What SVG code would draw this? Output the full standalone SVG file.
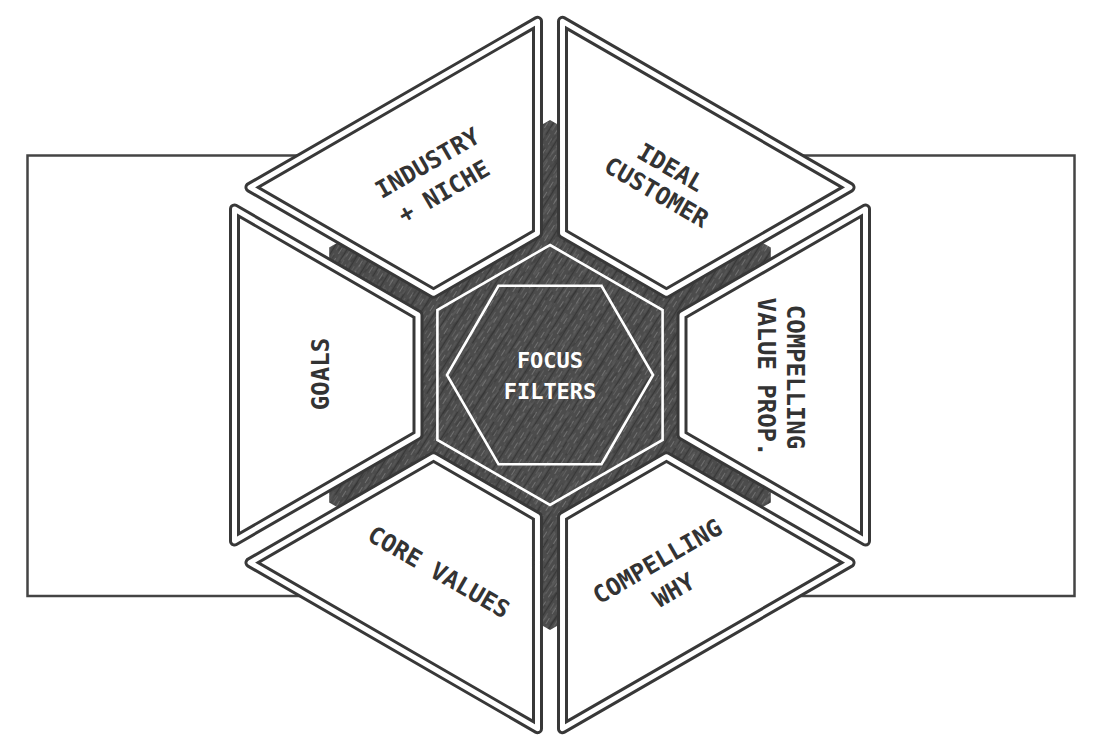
<svg xmlns="http://www.w3.org/2000/svg" xmlns:xlink="http://www.w3.org/1999/xlink" width="1100" height="752" viewBox="0 0 1100 752">
<style>
.frame{fill:none;stroke:#444;stroke-width:2.5}
.tk{fill:#fff;stroke:#383838;stroke-width:11;stroke-linejoin:round}
.tw{fill:none;stroke:#fff;stroke-width:5;stroke-linejoin:round}
.lbl{font-family:"DejaVu Sans Mono","Liberation Mono",monospace;font-weight:bold;font-size:24px;fill:#333;text-anchor:middle}
.ctr{font-family:"DejaVu Sans Mono","Liberation Mono",monospace;font-weight:bold;font-size:22px;fill:#fff;text-anchor:middle}
.wl{fill:none;stroke:#fff;stroke-width:2.6}
</style>
<defs>
<pattern id="hatch" width="12" height="12" patternUnits="userSpaceOnUse" patternTransform="rotate(-58)">
<rect width="12" height="12" fill="#4c4c4c"/>
<line x1="0" y1="1.5" x2="7" y2="1.5" stroke="#707070" stroke-width="1"/>
<line x1="4" y1="4" x2="12" y2="4" stroke="#5e5e5e" stroke-width="0.9"/>
<line x1="0" y1="6.5" x2="12" y2="6.5" stroke="#383838" stroke-width="1.3"/>
<line x1="2" y1="9.5" x2="10" y2="9.5" stroke="#666" stroke-width="0.8"/>
</pattern>
<pattern id="hatch2" width="17" height="17" patternUnits="userSpaceOnUse" patternTransform="rotate(-48)">
<line x1="0" y1="3" x2="10" y2="3" stroke="#7a7a7a" stroke-width="0.8" opacity="0.6"/>
<line x1="6" y1="11" x2="17" y2="11" stroke="#2e2e2e" stroke-width="1" opacity="0.6"/>
</pattern>
<path id="tile" d="M234.5,209 L418,315 L418,435 L234.5,541 Z"/>
</defs>
<rect width="1100" height="752" fill="#fff"/>
<g id="frame">
<rect class="frame" x="27.5" y="155.5" width="1047" height="440.5"/>
</g>
<g id="focus-filters">
<polygon points="550,120 770.8,247.5 770.8,502.5 550,630 329.2,502.5 329.2,247.5" fill="url(#hatch)"/>
<polygon points="550,120 770.8,247.5 770.8,502.5 550,630 329.2,502.5 329.2,247.5" fill="url(#hatch2)"/>
<polygon class="wl" points="550,245 662.6,310 662.6,440 550,505 437.4,440 437.4,310"/>
<polygon class="wl" points="653,375 601.5,285.8 498.5,285.8 447,375 498.5,464.2 601.5,464.2"/>
<text class="ctr" x="550" y="367.5">FOCUS</text>
<text class="ctr" x="550" y="398.5">FILTERS</text>
</g>
<g id="goals">
<use class="tk" xlink:href="#tile"/>
<use class="tw" xlink:href="#tile"/>
<text class="lbl" transform="translate(320,374) rotate(-90)" y="8.7">GOALS</text>
</g>
<g id="industry-niche">
<use class="tk" xlink:href="#tile" transform="translate(1.5,2.6) rotate(60 550 375)"/>
<use class="tw" xlink:href="#tile" transform="translate(1.5,2.6) rotate(60 550 375)"/>
<text class="lbl" transform="translate(435.5,177) rotate(-30)"><tspan x="0" y="-7.8">INDUSTRY</tspan><tspan x="0" y="25.2">+ NICHE</tspan></text>
</g>
<g id="ideal-customer">
<use class="tk" xlink:href="#tile" transform="translate(-1.5,2.6) rotate(120 550 375)"/>
<use class="tw" xlink:href="#tile" transform="translate(-1.5,2.6) rotate(120 550 375)"/>
<text class="lbl" transform="translate(663.7,179.6) rotate(30)"><tspan x="0" y="-5.6">IDEAL</tspan><tspan x="0" y="23">CUSTOMER</tspan></text>
</g>
<g id="value-prop">
<use class="tk" xlink:href="#tile" transform="rotate(180 550 375)"/>
<use class="tw" xlink:href="#tile" transform="rotate(180 550 375)"/>
<text class="lbl" transform="translate(781.5,377) rotate(90)"><tspan x="0" y="-5.8">COMPELLING</tspan><tspan x="0" y="23.2">VALUE PROP.</tspan></text>
</g>
<g id="compelling-why">
<use class="tk" xlink:href="#tile" transform="translate(-1.5,-2.6) rotate(240 550 375)"/>
<use class="tw" xlink:href="#tile" transform="translate(-1.5,-2.6) rotate(240 550 375)"/>
<text class="lbl" transform="translate(665.4,575.4) rotate(-30)"><tspan x="0" y="-7.9">COMPELLING</tspan><tspan x="0" y="25.3">WHY</tspan></text>
</g>
<g id="core-values">
<use class="tk" xlink:href="#tile" transform="translate(1.5,-2.6) rotate(300 550 375)"/>
<use class="tw" xlink:href="#tile" transform="translate(1.5,-2.6) rotate(300 550 375)"/>
<text class="lbl" transform="translate(439,571.7) rotate(30)" y="8.7">CORE VALUES</text>
</g>
</svg>
